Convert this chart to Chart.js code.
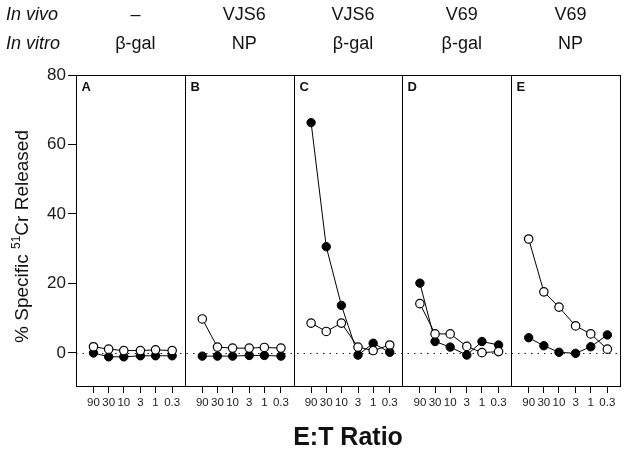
<!DOCTYPE html>
<html>
<head>
<meta charset="utf-8">
<script src="https://cdn.jsdelivr.net/npm/chart.js@4.4.0/dist/chart.umd.min.js"></script>
<style>
html, body { margin: 0; padding: 0; background: #fff; }
</style>
</head>
<body>
<canvas id="chart" width="627" height="457"></canvas>
<script>
// E:T ratios (x) and labels
var etRatios = [90, 30, 10, 3, 1, 0.3];
var etLabels = ["90", "30", "10", "3", "1", "0.3"];
var yTicks = [0, 20, 40, 60, 80];

// panel headings
var panelLetters = ["A", "B", "C", "D", "E"];
var inVivo = ["–", "VJS6", "VJS6", "V69", "V69"];
var inVitro = ["β-gal", "NP", "β-gal", "β-gal", "NP"];

// % specific 51Cr release, filled and open circles per panel
var filledA = [0, -1.1, -1.1, -0.8, -0.8, -0.8];
var openA   = [1.8, 1.1, 0.7, 0.7, 0.9, 0.7];
var filledB = [-0.9, -0.9, -0.9, -0.7, -0.7, -0.9];
var openB   = [9.8, 1.7, 1.4, 1.4, 1.6, 1.4];
var filledC = [66.3, 30.6, 13.7, -0.6, 2.8, 0.2];
var openC   = [8.6, 6.2, 8.6, 1.7, 0.7, 2.3];
var filledD = [20.1, 3.3, 1.7, -0.6, 3.3, 2.3];
var openD   = [14.2, 5.5, 5.5, 1.9, 0.1, 0.4];
var filledE = [4.4, 2.1, 0.2, -0.1, 1.8, 5.2];
var openE   = [32.8, 17.6, 13.2, 7.8, 5.5, 1.1];

var filledSets = [filledA, filledB, filledC, filledD, filledE];
var openSets = [openA, openB, openC, openD, openE];

var FONT = "'Liberation Sans', Arial, Helvetica, sans-serif";

function toPoints(arr) {
    return etRatios.map(function (x, i) { return { x: x, y: arr[i] }; });
}

var datasets = [];
var scales = {
    y: {
        type: "linear",
        position: "left",
        min: -9.5,
        max: 80,
        afterBuildTicks: function (s) { s.ticks = yTicks.map(function (v) { return { value: v }; }); },
        afterFit: function (s) { s.width = 76; },
        grid: { drawOnChartArea: false, drawTicks: true, tickLength: 8, color: "#000", lineWidth: 1 },
        border: { display: false },
        ticks: { color: "#1a1a1a", padding: 2, font: { family: FONT, size: 17 } }
    }
};

panelLetters.forEach(function (p, i) {
    var id = "x" + i;
    scales[id] = {
        type: "logarithmic",
        position: "bottom",
        stack: "panels",
        stackWeight: 1,
        reverse: true,
        min: 0.12,
        max: 320,
        afterBuildTicks: function (s) { s.ticks = etRatios.map(function (v) { return { value: v }; }); },
        afterFit: function (s) { s.height = 71; },
        grid: { drawOnChartArea: false, drawTicks: true, tickLength: 7, color: "#000", lineWidth: 1 },
        border: { display: false },
        ticks: {
            autoSkip: false,
            maxRotation: 0,
            minRotation: 0,
            padding: 3,
            color: "#1a1a1a",
            font: { family: FONT, size: 11.5 },
            callback: function (v, idx) { return etLabels[idx]; }
        }
    };
    datasets.push({
        label: p + " open",
        data: toPoints(openSets[i]),
        xAxisID: id,
        yAxisID: "y",
        borderColor: "#000",
        borderWidth: 1,
        backgroundColor: "#fff",
        pointBackgroundColor: "#fff",
        pointBorderColor: "#000",
        pointBorderWidth: 1.2,
        pointRadius: 4.2,
        tension: 0,
        clip: false
    });
    datasets.push({
        label: p + " filled",
        data: toPoints(filledSets[i]),
        xAxisID: id,
        yAxisID: "y",
        borderColor: "#000",
        borderWidth: 1,
        backgroundColor: "#000",
        pointBackgroundColor: "#000",
        pointBorderColor: "#000",
        pointBorderWidth: 1,
        pointRadius: 4.2,
        tension: 0,
        clip: false
    });
});

var decor = {
    id: "decor",
    beforeDatasetsDraw: function (chart) {
        var ctx = chart.ctx, a = chart.chartArea;
        var y0 = Math.round(chart.scales.y.getPixelForValue(0)) + 0.5;
        ctx.save();
        ctx.setLineDash([1.5, 5]);
        ctx.strokeStyle = "#222";
        ctx.lineWidth = 1.2;
        ctx.beginPath();
        ctx.moveTo(a.left, y0);
        ctx.lineTo(a.right, y0);
        ctx.stroke();
        ctx.restore();
    },
    afterDraw: function (chart) {
        var ctx = chart.ctx, a = chart.chartArea;
        ctx.save();
        ctx.strokeStyle = "#000";
        ctx.lineWidth = 1;
        ctx.fillStyle = "#111";
        var top = Math.round(a.top) + 0.5, bot = Math.round(a.bottom) + 0.5;
        panelLetters.forEach(function (p, i) {
            var s = chart.scales["x" + i];
            var l = Math.round(s.left) + 0.5, r = Math.round(s.right) + 0.5;
            ctx.strokeRect(l, top, r - l, bot - top);
            ctx.font = "bold 13px " + FONT;
            ctx.textAlign = "left";
            ctx.textBaseline = "middle";
            ctx.fillText(p, l + 5, a.top + 12);
            var cx = (s.left + s.right) / 2 + 5;
            ctx.font = "18px " + FONT;
            ctx.textAlign = "center";
            ctx.fillText(inVivo[i], cx, 15);
            ctx.fillText(inVitro[i], cx, 44);
        });
        ctx.font = "italic 18px " + FONT;
        ctx.textAlign = "left";
        ctx.fillText("In vivo", 6, 15);
        ctx.fillText("In vitro", 6, 44);

        // x title
        ctx.font = "bold 25px " + FONT;
        ctx.textAlign = "center";
        ctx.fillText("E:T Ratio", (a.left + a.right) / 2, 438);

        // y title with superscript
        var big = "19px " + FONT, small = "12px " + FONT;
        var parts = [["% Specific ", big, 0], ["51", small, -6], ["Cr Released", big, 0]];
        var total = 0;
        parts.forEach(function (pt) { ctx.font = pt[1]; total += ctx.measureText(pt[0]).width; });
        ctx.translate(23, (a.top + a.bottom) / 2 + 6);
        ctx.rotate(-Math.PI / 2);
        var x = -total / 2;
        ctx.textAlign = "left";
        parts.forEach(function (pt) {
            ctx.font = pt[1];
            ctx.fillText(pt[0], x, pt[2]);
            x += ctx.measureText(pt[0]).width;
        });
        ctx.restore();
    }
};

new Chart(document.getElementById("chart"), {
    type: "line",
    data: { datasets: datasets },
    options: {
        responsive: false,
        animation: false,
        layout: { padding: { top: 75, left: 0, right: 7, bottom: 0 } },
        plugins: { legend: { display: false }, tooltip: { enabled: false } },
        scales: scales
    },
    plugins: [decor]
});
</script>
</body>
</html>
